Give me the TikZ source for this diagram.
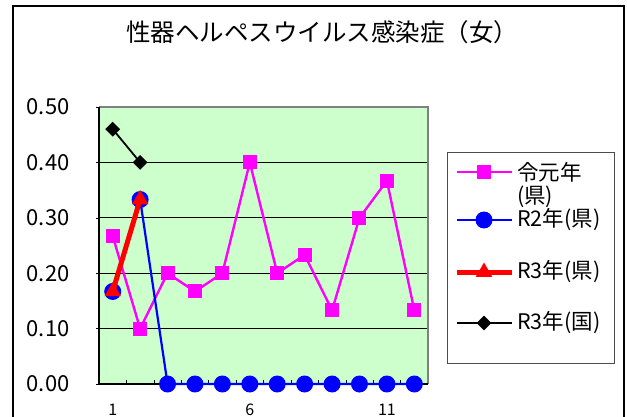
\documentclass[tikz,border=0pt]{standalone}
\usepackage{fontspec}
\setmainfont{Noto Sans CJK JP}
\usetikzlibrary{shapes.geometric}
\definecolor{plotbg}{HTML}{CCFFCC}
\definecolor{mag}{HTML}{FF00FF}
\tikzset{
  sq/.style={rectangle,fill=mag,minimum size=14pt,inner sep=0pt},
  dot/.style={circle,fill=blue,minimum size=17pt,inner sep=0pt},
  tri/.style={regular polygon,regular polygon sides=3,fill=red,minimum size=19pt,inner sep=0pt},
  dia/.style={diamond,fill=black,minimum size=15pt,inner sep=0pt},
  ylab/.style={anchor=east,font=\fontsize{22}{24}\selectfont},
  xlab/.style={font=\fontsize{16}{18}\selectfont},
  legtext/.style={anchor=west,font=\fontsize{21.5}{24}\selectfont,inner sep=0pt}
}
\begin{document}
\begin{tikzpicture}[x=1pt,y=-1pt]
\useasboundingbox (0,0) rectangle (627,417);
\draw[line width=1.4pt] (13,417) |- (624,6) -- (624,417);
\node[font=\fontsize{24.5}{28}\selectfont] (title) at (322,32) {性器ヘルペスウイルス感染症（女）};
\begin{scope}[shift={(99,384)},x=27.42pt,y=554pt]
  \fill[plotbg] (0,0) rectangle (12,0.5);
  \foreach \v in {0.1,0.2,0.3,0.4} \draw[line width=1pt] (0,\v) -- (12,\v);
  \draw[gray,line width=2pt] (0,0.5) -- (12,0.5) -- (12,0);
  \draw[line width=1.2pt] (0,0.5) -- (0,0) -- (12,0);
  \foreach \i in {1,...,11} \draw (\i,0) -- ++(0,0.008);
  \foreach \v/\t [count=\k] in {0/0.00,0.1/0.10,0.2/0.20,0.3/0.30,0.4/0.40,0.5/0.50}{
    \draw (0,\v) -- ++(-3pt,0);
    \node[ylab] (y\k) at ([xshift=-26pt]0,\v) {\t};
  }
  \foreach \i in {1,6,11} \node[xlab] (x\i) at ([yshift=-26pt]\i-0.5,0) {\i};
  \foreach \v [count=\i] in {0.267,0.1,0.2,0.167,0.2,0.4,0.2,0.233,0.133,0.3,0.367,0.133}
    \coordinate (m\i) at (\i-0.5,\v);
  \foreach \v [count=\i] in {0.167,0.333,0,0,0,0,0,0,0,0,0,0}
    \coordinate (b\i) at (\i-0.5,\v);
  \coordinate (r1) at (0.5,0.167);
  \coordinate (r2) at (1.5,0.333);
  \coordinate (k1) at (0.5,0.46);
  \coordinate (k2) at (1.5,0.40);
  \draw[mag,line width=2.4pt] (m1) \foreach \i in {2,...,12}{-- (m\i)};
  \foreach \i in {1,...,12} \node[sq] at (m\i) {};
  \draw[blue,line width=2.2pt] (b1) \foreach \i in {2,...,12}{-- (b\i)};
  \foreach \i in {1,...,12} \node[dot] at (b\i) {};
  \draw[red,line width=5pt] (r1) -- (r2);
  \foreach \i in {1,2} \node[tri] at (r\i) {};
  \draw[line width=1.8pt] (k1) -- (k2);
  \foreach \i in {1,2} \node[dia] at (k\i) {};
\end{scope}
\draw[gray!60!black,line width=1pt] (447,153) rectangle (614,363);
\foreach \y [count=\i] in {172,220,272,323}{
  \coordinate (la\i) at (457,\y);
  \coordinate (lb\i) at (512,\y);
  \coordinate (lm\i) at (484,\y);
}
\draw[mag,line width=2.4pt] (la1) -- (lb1);
\node[sq] at (lm1) {};
\draw[blue,line width=2.2pt] (la2) -- (lb2);
\node[dot] at (lm2) {};
\draw[red,line width=5pt] (la3) -- (lb3);
\node[tri] at (lm3) {};
\draw[line width=1.8pt] (la4) -- (lb4);
\node[dia] at (lm4) {};
\node[legtext] (leg1) at (517,172) {令元年};
\node[legtext] (leg1b) at (517,197) {(県)};
\node[legtext] (leg2) at (517,220) {R2年(県)};
\node[legtext] (leg3) at (517,272) {R3年(県)};
\node[legtext] (leg4) at (517,323) {R3年(国)};
\end{tikzpicture}
\end{document}
